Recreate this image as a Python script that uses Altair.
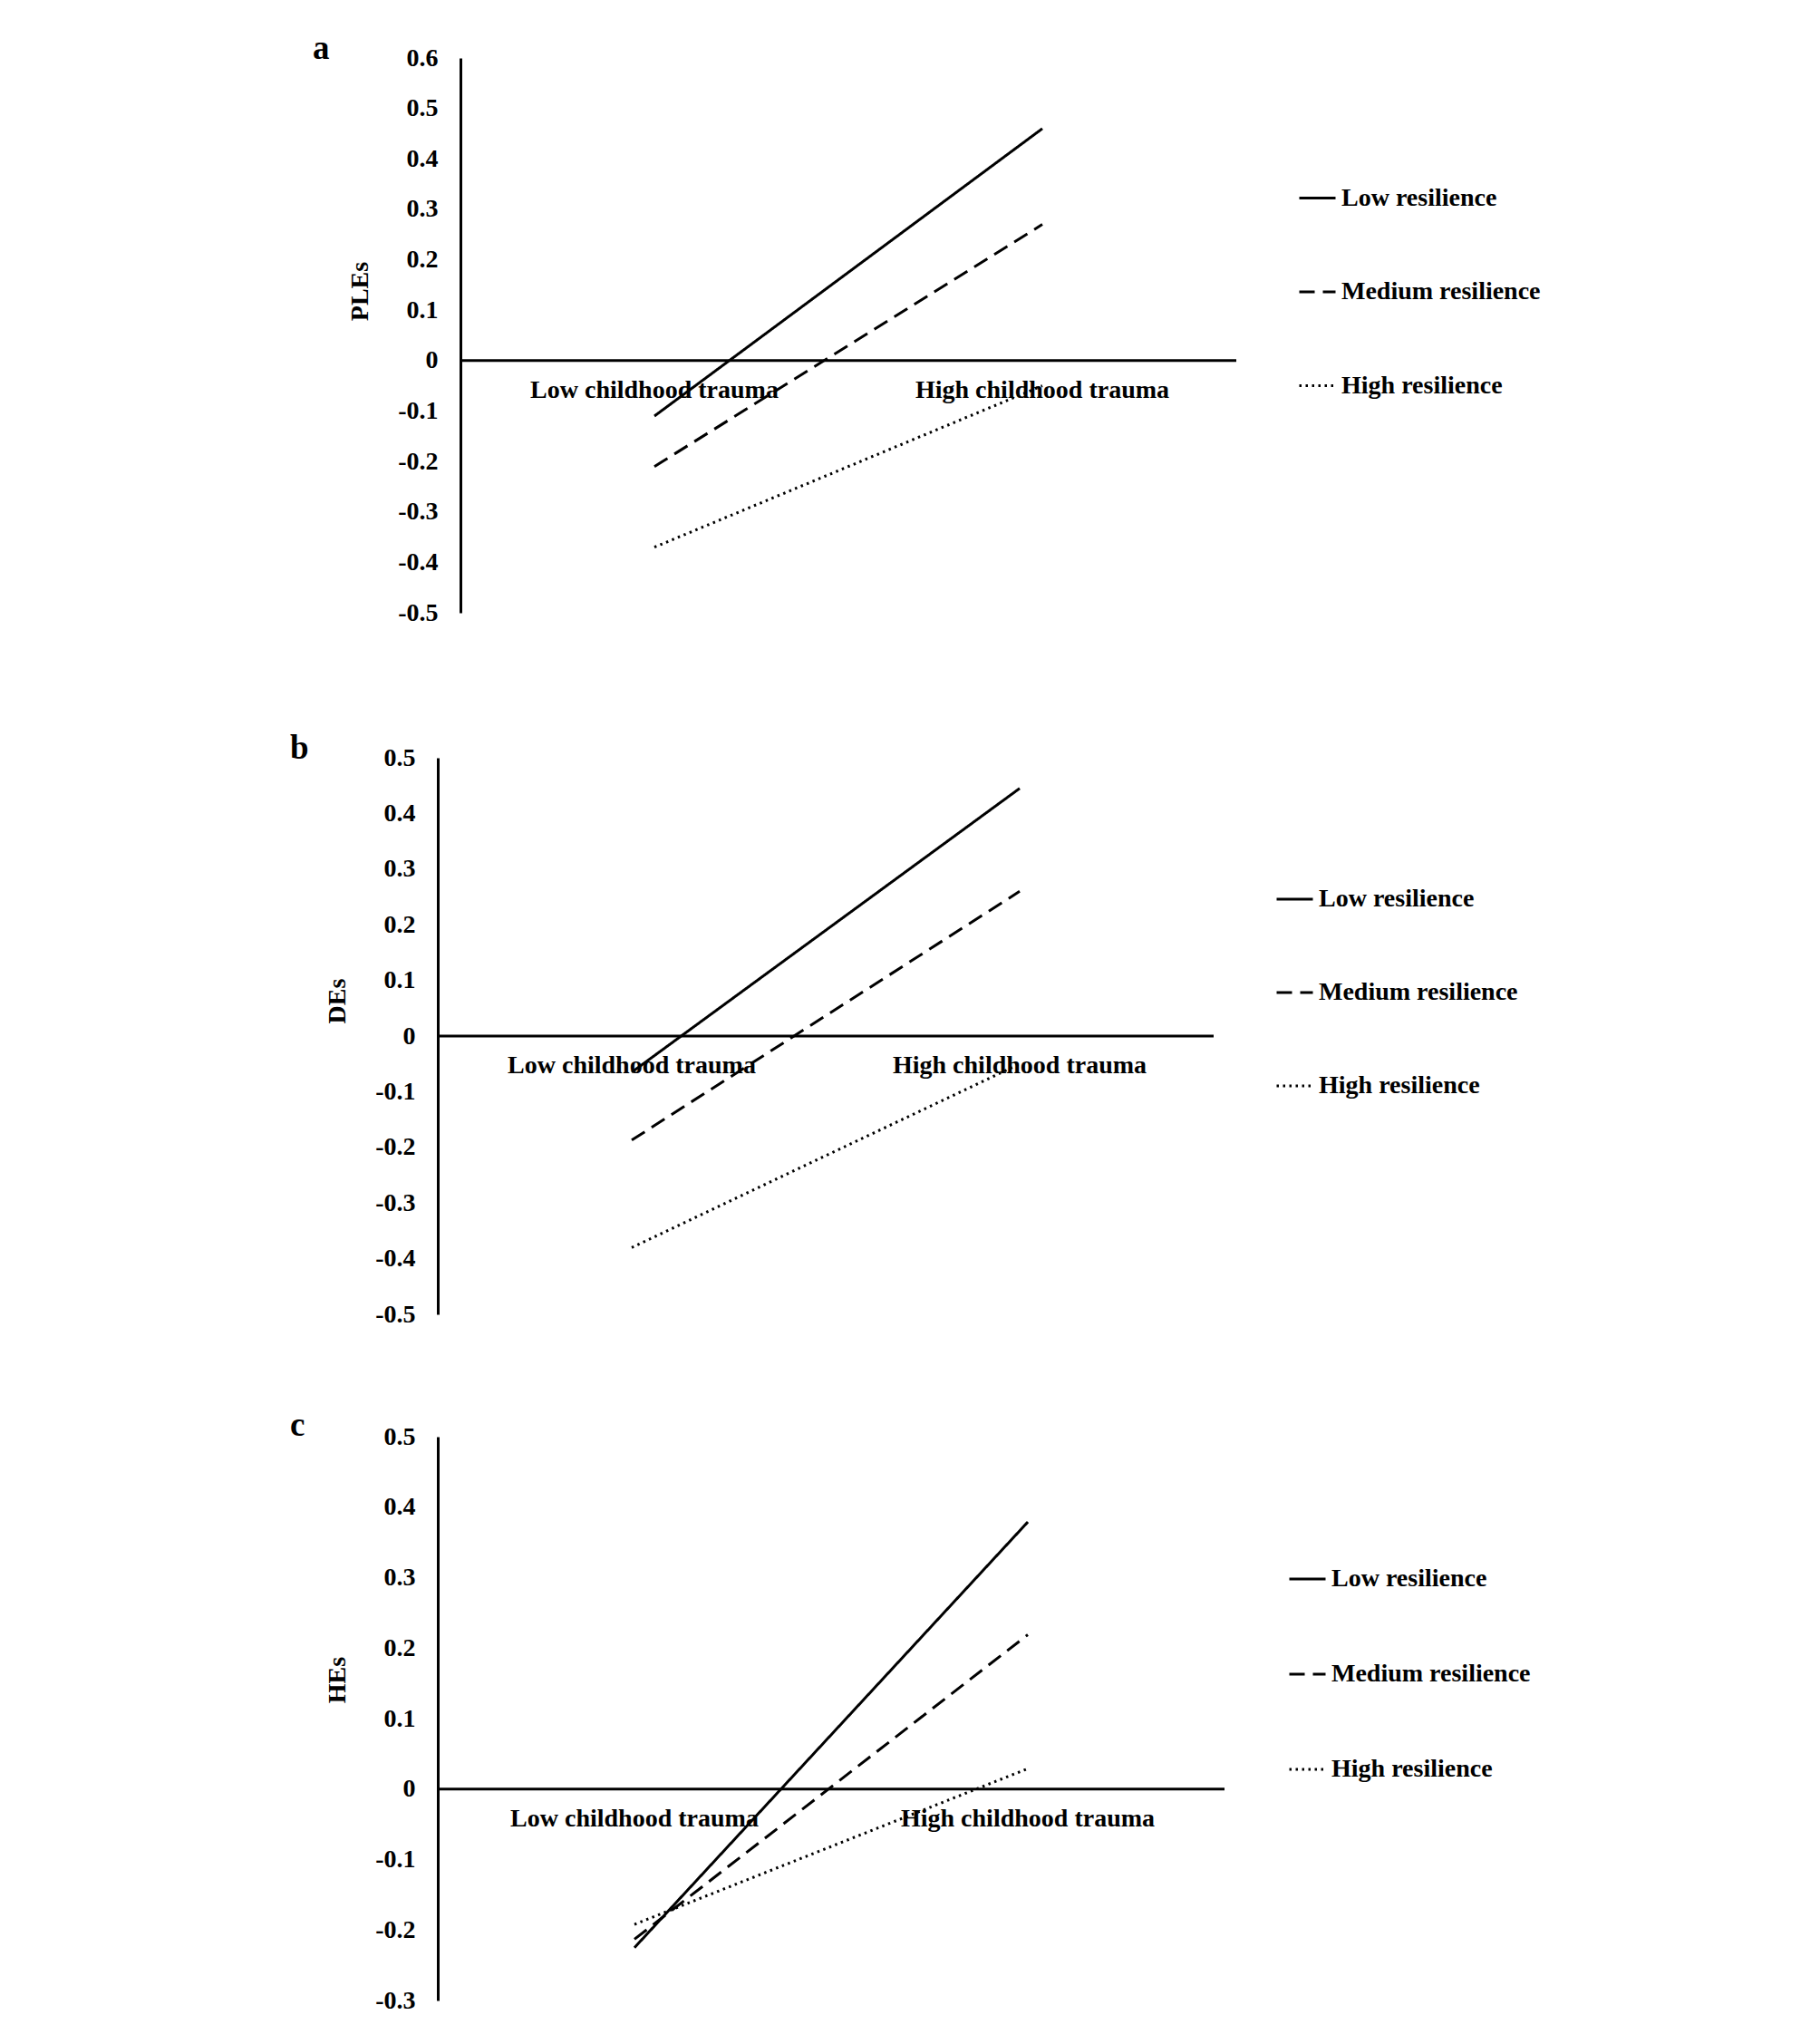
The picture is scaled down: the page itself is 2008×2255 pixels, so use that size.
import altair as alt
import pandas as pd

FONT = "Liberation Serif"

categories = ["Low childhood trauma", "High childhood trauma"]
cat_pos = [0, 1]
series = ["Low resilience", "Medium resilience", "High resilience"]

# Panel a: PLEs
ples_low = [-0.11, 0.46]
ples_med = [-0.21, 0.27]
ples_high = [-0.37, -0.05]
ples_ticks = [0.6, 0.5, 0.4, 0.3, 0.2, 0.1, 0.0, -0.1, -0.2, -0.3, -0.4, -0.5]

# Panel b: DEs
des_low = [-0.065, 0.445]
des_med = [-0.187, 0.26]
des_high = [-0.38, -0.05]
des_ticks = [0.5, 0.4, 0.3, 0.2, 0.1, 0.0, -0.1, -0.2, -0.3, -0.4, -0.5]

# Panel c: HEs
hes_low = [-0.225, 0.379]
hes_med = [-0.213, 0.219]
hes_high = [-0.192, 0.029]
hes_ticks = [0.5, 0.4, 0.3, 0.2, 0.1, 0.0, -0.1, -0.2, -0.3]

# category axis runs from -0.5 to 1.5 (two category slots)
x_axis_span = [-0.5, 1.5]

LABEL_EXPR = ("abs(datum.value) < 1e-9 ? '0' : (datum.value < 0 ? '-' + "
              "format(-datum.value, '.1f') : format(datum.value, '.1f'))")


def panel(letter, ytitle, vals, ticks, width, height, title_y,
          legend_x, legend_y, row_pad, title_dy, shift=0):
    rows = []
    for s, v in zip(series, vals):
        for c, p, y in zip(categories, cat_pos, v):
            rows.append({"series": s, "cat": c, "pos": p, "value": y})
    df = pd.DataFrame(rows)
    lab = pd.DataFrame({"cat": categories, "pos": cat_pos, "zero": [0.0, 0.0]})
    span = pd.DataFrame({"x0": [x_axis_span[0]], "x1": [x_axis_span[1]],
                         "zero": [0.0]})

    # `shift` pixels of empty room to the left of the y axis
    unit = width / (x_axis_span[1] - x_axis_span[0])
    xs = alt.Scale(domain=[x_axis_span[0] - shift / unit, x_axis_span[1]],
                   nice=False, zero=False)
    ys = alt.Scale(domain=[min(ticks), max(ticks)], nice=False, zero=False)
    yaxis = alt.Axis(
        values=ticks, labelExpr=LABEL_EXPR, labelFont=FONT, labelFontSize=28,
        labelFontWeight="bold", labelColor="black", ticks=False, tickSize=0,
        labelPadding=25, domainColor="black", domainWidth=3, grid=False,
        labelOverlap=False, labelFlush=False, offset=-shift,
        title=ytitle, titleFont=FONT, titleFontSize=28, titleFontWeight="bold",
        titleColor="black", titleAngle=270, titleAlign="center",
        titleBaseline="middle", titleX=-111, titleY=title_y,
    )

    rule = alt.Chart(span).mark_rule(color="black", strokeWidth=3).encode(
        x=alt.X("x0:Q", scale=xs, axis=None),
        x2="x1:Q",
        y=alt.Y("zero:Q", scale=ys, axis=yaxis),
    )
    text = alt.Chart(lab).mark_text(
        font=FONT, fontSize=28, fontWeight="bold", dy=33, baseline="middle",
        align="center", color="black"
    ).encode(
        x=alt.X("pos:Q", scale=xs, axis=None),
        y=alt.Y("zero:Q", scale=ys, axis=yaxis),
        text="cat:N",
    )
    lines = alt.Chart(df).mark_line(color="black", strokeCap="butt").encode(
        x=alt.X("pos:Q", scale=xs, axis=None),
        y=alt.Y("value:Q", scale=ys, axis=yaxis),
        strokeDash=alt.StrokeDash(
            "series:N",
            scale=alt.Scale(domain=series, range=[[1, 0], [17, 9], [2.5, 4.5]]),
            legend=alt.Legend(
                title=None, orient="none", legendX=legend_x + shift,
                legendY=legend_y,
                direction="vertical", symbolType="stroke", symbolSize=1600,
                symbolStrokeWidth=3, symbolStrokeColor="black",
                labelFont=FONT, labelFontSize=28, labelFontWeight="bold",
                labelColor="black", labelOffset=5, rowPadding=row_pad,
                padding=0, labelLimit=0,
            ),
        ),
        strokeWidth=alt.StrokeWidth(
            "series:N", scale=alt.Scale(domain=series, range=[3, 3, 2.5]),
            legend=None,
        ),
    )
    return alt.layer(rule, text, lines).properties(
        width=width + shift, height=height,
        title=alt.TitleParams(
            letter, anchor="start", frame="group", dx=-163 + shift, dy=title_dy,
            offset=0, fontSize=37, font=FONT, fontWeight="bold",
            color="black", baseline="alphabetic",
        ),
    )


pa = panel("a", "PLEs", [ples_low, ples_med, ples_high],
           ples_ticks, 856, 612, 257, 924, 133, 67.5, 52, shift=25)
pb = panel("b", "DEs", [des_low, des_med, des_high], des_ticks,
           856, 614, 268, 924, 134.5, 67, 52)
pc = panel("c", "HEs", [hes_low, hes_med, hes_high], hes_ticks,
           868, 622, 268, 938, 135.5, 69, 50)


def indep(c):
    return c.resolve_scale(strokeDash="independent", strokeWidth="independent",
                           y="independent", x="independent") \
            .resolve_legend(strokeDash="independent", strokeWidth="independent")


bottom = indep(alt.vconcat(pb, pc, spacing=135, bounds="flush"))

chart = indep(alt.vconcat(pa, bottom, spacing=117)).properties(
    padding={"left": 312, "top": 27, "right": 5, "bottom": 5},
    background="white",
).configure_view(stroke=None)

chart.save("out.html", embed_options={"renderer": "svg", "actions": False})
